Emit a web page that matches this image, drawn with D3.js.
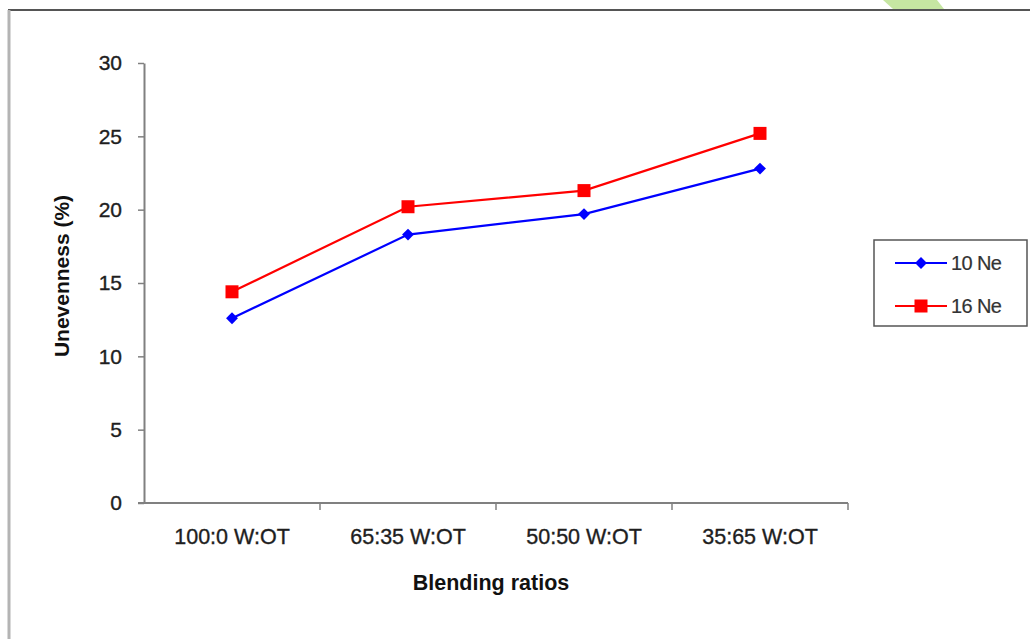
<!DOCTYPE html>
<html>
<head>
<meta charset="utf-8">
<script src="https://cdn.jsdelivr.net/npm/d3@7"></script>
<style>
  html, body { margin: 0; padding: 0; background: #fff; }
  svg { display: block; font-family: Arial, "Liberation Sans", sans-serif; }
</style>
</head>
<body>
<svg id="chart" width="1030" height="639"></svg>
<script>
// Blend ratios (wool : other textile) and yarn unevenness per count
const categories = ["100:0 W:OT", "65:35 W:OT", "50:50 W:OT", "35:65 W:OT"];
const seriesNames = ["10 Ne", "16 Ne"];
const values10Ne = [12.6, 18.3, 19.7, 22.8];
const values16Ne = [14.4, 20.2, 21.3, 25.2];
const yTicks = [0, 5, 10, 15, 20, 25, 30];

const series = [
  { name: seriesNames[0], values: values10Ne, color: "#0000ff", marker: "diamond" },
  { name: seriesNames[1], values: values16Ne, color: "#ff0000", marker: "square" }
];

const svg = d3.select("#chart");
const textFill = "#1e1e1e";

// Frame around the figure
svg.append("polygon")
  .attr("points", "883,0 937,0 944,9 893,9")
  .attr("fill", "#c6e6a2");
svg.append("line")
  .attr("x1", 8).attr("x2", 1030).attr("y1", 10).attr("y2", 10)
  .attr("stroke", "#555").attr("stroke-width", 2);
svg.append("line")
  .attr("x1", 9).attr("x2", 9).attr("y1", 10).attr("y2", 639)
  .attr("stroke", "#b4b4b4").attr("stroke-width", 3);

const plot = { left: 144, right: 848, top: 63, bottom: 503 };

const x = d3.scaleBand().domain(categories).range([plot.left, plot.right]).padding(0);
const y = d3.scaleLinear().domain([0, 30]).range([plot.bottom, plot.top]);

const axisColor = "#808080";

function styleLabels(sel, size) {
  sel.attr("font-size", size)
    .attr("fill", textFill)
    .attr("stroke", textFill)
    .attr("stroke-width", 0.35)
    .attr("font-family", "Arial, 'Liberation Sans', sans-serif");
}

// Y axis
const yAxis = svg.append("g")
  .attr("transform", `translate(${plot.left},0)`)
  .call(d3.axisLeft(y).tickValues(yTicks).tickSize(6).tickPadding(16).tickSizeOuter(0));
yAxis.select(".domain").attr("stroke", axisColor).attr("stroke-width", 2);
yAxis.selectAll(".tick line").attr("stroke", axisColor).attr("stroke-width", 1.5);
styleLabels(yAxis.selectAll(".tick text"), 21);

// X axis with ticks on the category boundaries
const xAxis = svg.append("g")
  .attr("transform", `translate(0,${plot.bottom})`)
  .call(d3.axisBottom(x).tickSize(0).tickPadding(26));
xAxis.select(".domain").remove();
xAxis.append("line")
  .attr("x1", plot.left - 6).attr("x2", plot.right)
  .attr("stroke", axisColor).attr("stroke-width", 2);
const boundaries = categories.map(c => x(c) + x.bandwidth());
xAxis.selectAll(".bound")
  .data(boundaries)
  .enter().append("line")
  .attr("class", "bound")
  .attr("x1", d => d).attr("x2", d => d)
  .attr("y1", 0).attr("y2", 7)
  .attr("stroke", axisColor).attr("stroke-width", 1.5);
styleLabels(xAxis.selectAll(".tick text"), 21.5);

// Axis titles
svg.append("text")
  .attr("x", 491).attr("y", 590)
  .attr("text-anchor", "middle")
  .attr("font-size", 21.5).attr("font-weight", "bold").attr("fill", "#111")
  .text("Blending ratios");
svg.append("text")
  .attr("transform", "translate(69,276) rotate(-90)")
  .attr("text-anchor", "middle")
  .attr("font-size", 21).attr("font-weight", "bold").attr("fill", "#111")
  .text("Unevenness (%)");

// Series lines and markers
const line = d3.line()
  .x((d, i) => x(categories[i]) + x.bandwidth() / 2)
  .y(d => y(d));

function drawMarker(g, type, color, cx, cy) {
  if (type === "square") {
    g.append("rect")
      .attr("x", cx - 6.5).attr("y", cy - 6.5)
      .attr("width", 13).attr("height", 13)
      .attr("fill", color);
  } else {
    g.append("path")
      .attr("d", d3.symbol(d3.symbolDiamond2, 90)())
      .attr("transform", `translate(${cx},${cy})`)
      .attr("fill", color);
  }
}

series.forEach(s => {
  svg.append("path")
    .datum(s.values)
    .attr("d", line)
    .attr("fill", "none")
    .attr("stroke", s.color)
    .attr("stroke-width", 2.2);
  const g = svg.append("g");
  s.values.forEach((v, i) => {
    drawMarker(g, s.marker, s.color, x(categories[i]) + x.bandwidth() / 2, y(v));
  });
});

// Legend
const legend = svg.append("g");
legend.append("rect")
  .attr("x", 874).attr("y", 240).attr("width", 153).attr("height", 86)
  .attr("fill", "#fff").attr("stroke", "#555").attr("stroke-width", 1.5);
series.forEach((s, i) => {
  const ly = 263 + i * 43;
  legend.append("line")
    .attr("x1", 895).attr("x2", 947).attr("y1", ly).attr("y2", ly)
    .attr("stroke", s.color).attr("stroke-width", 2.2);
  drawMarker(legend, s.marker, s.color, 921, ly);
  const t = legend.append("text")
    .attr("x", 951).attr("y", ly + 7)
    .attr("letter-spacing", -0.6)
    .text(s.name);
  styleLabels(t, 20);
  t.attr("fill", "#333").attr("stroke", "#333").attr("stroke-width", 0.2);
});
</script>
</body>
</html>
